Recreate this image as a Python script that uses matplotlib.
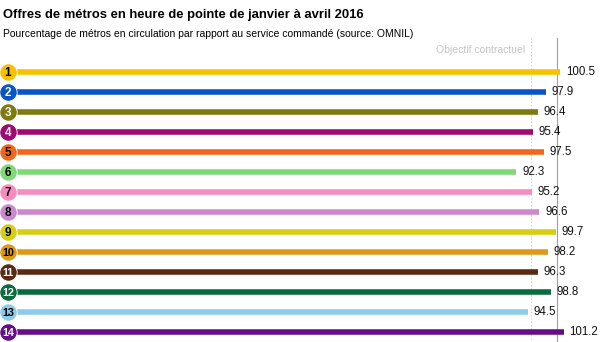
import matplotlib
matplotlib.use('Agg')
import matplotlib.pyplot as plt

plt.rcParams['font.family'] = ['Liberation Sans', 'DejaVu Sans']

lines = ['1', '2', '3', '4', '5', '6', '7', '8', '9', '10', '11', '12', '13', '14']
values = [100.5, 97.9, 96.4, 95.4, 97.5, 92.3, 95.2, 96.6, 99.7, 98.2, 96.3, 98.8, 94.5, 101.2]
colors = ['#f5c200', '#0a55c4', '#7d7a10', '#9c0a72', '#f0661a', '#80d878', '#f58cc0',
          '#cc88cc', '#d4cf12', '#dc9a18', '#5a2a12', '#0b6b40', '#8ccbea', '#640f88']
num_colors = ['black', 'white', 'white', 'white', 'black', 'black', 'black',
              'black', 'black', 'black', 'white', 'white', 'black', 'white']
objective = 95
full_service = 100

title = 'Offres de métros en heure de pointe de janvier à avril 2016'
subtitle = 'Pourcentage de métros en circulation par rapport au service commandé (source: OMNIL)'

fig = plt.figure(figsize=(6, 3.42), dpi=100)
ax = fig.add_axes([0, 0, 1, 1])
ax.set_xlim(-4.5, 108.0)
ax.set_ylim(342, 0)
ax.axis('off')

# reference lines
ax.plot([objective, objective], [38, 342], color='#c8c8c8', lw=0.8, ls=(0, (1, 2)), zorder=1)
ax.plot([full_service, full_service], [38, 342], color='#a0a0a0', lw=0.8, zorder=1)
ax.text(objective - 1, 50, 'Objectif contractuel', color='#c4c4c4', fontsize=7.5,
        ha='right', va='center')

for i in range(len(lines)):
    y = 72 + 20 * i
    ax.plot([-3, values[i]], [y, y], color=colors[i], lw=4, solid_capstyle='butt', zorder=2)
    ax.plot(-3, y, 'o', ms=12.5, color=colors[i], mec='white', mew=0.6, zorder=3)
    ax.text(-3, y + 0.5, lines[i], color=num_colors[i], fontsize=8.5 if len(lines[i]) == 1 else 7.8,
            fontweight='bold', ha='center', va='center', zorder=4)
    ax.text(values[i] + 1.1, y, str(values[i]), fontsize=8.3, ha='left', va='center', color='#111111')

fig.text(0.005, 0.975, title, fontsize=9.4, fontweight='bold', ha='left', va='top')
fig.text(0.005, 0.915, subtitle, fontsize=7.5, ha='left', va='top')

fig.savefig('out.png', dpi=100)
